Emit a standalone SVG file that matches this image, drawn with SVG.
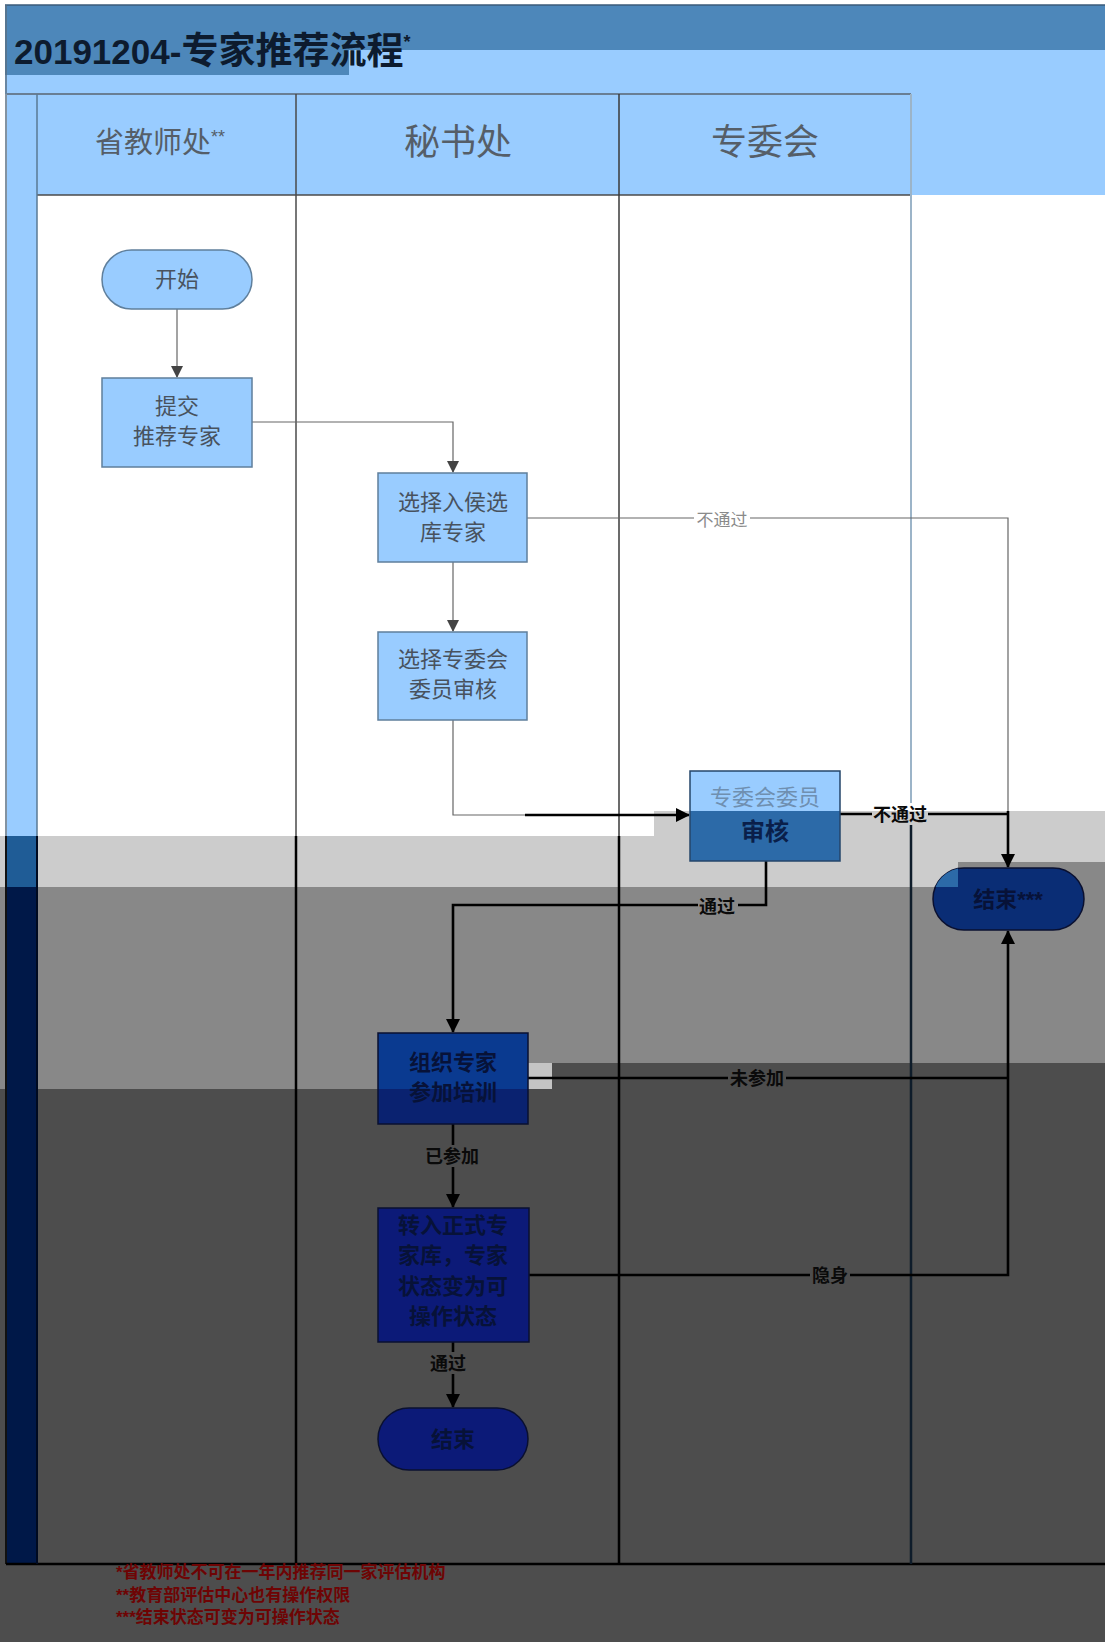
<svg xmlns="http://www.w3.org/2000/svg" width="1105" height="1642" viewBox="0 0 1105 1642">
<style>
.cjk{font-family:"Liberation Sans","Noto Sans CJK SC",sans-serif}
.hdr{font-family:"Liberation Sans","Noto Sans CJK SC",sans-serif;fill:#555e68;text-anchor:middle}
.nt{font-family:"Liberation Sans","Noto Sans CJK SC",sans-serif;font-size:22px;fill:#48525e;text-anchor:middle}
.dt{font-family:"Liberation Sans","Noto Sans CJK SC",sans-serif;font-size:22px;font-weight:bold;fill:#071238;text-anchor:middle}
.lt{fill:#99ccff;stroke:#5f7f9c;stroke-width:1.5}
.dk{stroke:#0a1030;stroke-width:1.5}
.cg{fill:none;stroke:#666;stroke-width:1.2}
.cb{fill:none;stroke:#000;stroke-width:2.6}
.lbl{font-family:"Liberation Sans","Noto Sans CJK SC",sans-serif;font-size:18px;font-weight:bold;fill:#0a0a0a;text-anchor:middle}
.fn{font-family:"Liberation Sans","Noto Sans CJK SC",sans-serif;font-size:17px;font-weight:bold;fill:#6e0404}
</style>
<defs>
<marker id="ag" markerWidth="12" markerHeight="12" refX="11" refY="6" orient="auto" markerUnits="userSpaceOnUse"><path d="M0,0 L12,6 L0,12 Z" fill="#444"/></marker>
<marker id="ab" markerWidth="14" markerHeight="14" refX="13" refY="7" orient="auto" markerUnits="userSpaceOnUse"><path d="M0,0 L14,7 L0,14 Z" fill="#000"/></marker>
<linearGradient id="grReview" gradientUnits="userSpaceOnUse" x1="0" y1="771" x2="0" y2="861"><stop offset="0.444" stop-color="#99ccff"/><stop offset="0.444" stop-color="#2c6aa8"/></linearGradient>
<linearGradient id="grTrain" gradientUnits="userSpaceOnUse" x1="0" y1="1033" x2="0" y2="1124"><stop offset="0.615" stop-color="#0a3a90"/><stop offset="0.615" stop-color="#0a2270"/></linearGradient>
<clipPath id="cpEnd3"><rect x="933" y="868" width="151" height="62" rx="31"/></clipPath>
</defs>

<!-- background -->
<rect x="0" y="0" width="1105" height="1642" fill="#ffffff"/>
<rect x="5" y="50" width="1100" height="44" fill="#99ccff"/>
<rect x="5" y="5" width="1100" height="45" fill="#4d87ba"/>
<rect x="5" y="50" width="344" height="25" fill="#4d87ba"/>
<rect x="7" y="94" width="30" height="742" fill="#99ccff"/>
<rect x="37" y="94" width="1068" height="101" fill="#99ccff"/>

<!-- overlay bands -->
<path d="M0,836 H654 V811 H1105 V1642 H0 Z" fill="#cccccc"/>
<path d="M0,887 H958 V862 H1105 V1642 H0 Z" fill="#888888"/>
<path d="M0,1089 H552 V1063 H1105 V1642 H0 Z" fill="#4d4d4d"/>
<rect x="528" y="1063" width="24" height="26" fill="#c4c4c4"/>
<rect x="7" y="836" width="30" height="51" fill="#1f5c96"/>
<rect x="7" y="887" width="30" height="677" fill="#001848"/>

<!-- frame and lane lines -->
<g id="lanes" fill="none">
<line x1="5" y1="5" x2="1105" y2="5" stroke="#3a5a78" stroke-width="1.5"/>
<line x1="6" y1="5" x2="6" y2="836" stroke="#5a6f82" stroke-width="1.5"/>
<line x1="6" y1="836" x2="6" y2="1564" stroke="#111" stroke-width="2"/>
<line x1="6" y1="1564" x2="1105" y2="1564" stroke="#000" stroke-width="2.5"/>
<line x1="7" y1="94" x2="911" y2="94" stroke="#5a6470" stroke-width="1.5"/>
<line x1="37" y1="195" x2="911" y2="195" stroke="#4a4a4a" stroke-width="1.5"/>
<line x1="37" y1="94" x2="37" y2="836" stroke="#5a7a95" stroke-width="1.5"/>
<line x1="37" y1="836" x2="37" y2="1564" stroke="#000a20" stroke-width="2"/>
<line x1="296" y1="94" x2="296" y2="836" stroke="#4a4a4a" stroke-width="1.5"/>
<line x1="296" y1="836" x2="296" y2="1564" stroke="#000" stroke-width="2.5"/>
<line x1="619" y1="94" x2="619" y2="836" stroke="#3a3a3a" stroke-width="1.5"/>
<line x1="619" y1="836" x2="619" y2="1564" stroke="#000" stroke-width="2.5"/>
<line x1="911" y1="94" x2="911" y2="811" stroke="#9cb4c8" stroke-width="2"/>
<line x1="911" y1="811" x2="911" y2="1564" stroke="#0e1c2a" stroke-width="2.5"/>
</g>

<!-- title and headers -->
<text x="14" y="64" class="cjk" font-size="35" font-weight="bold" fill="#0d1b2e">20191204-<tspan font-size="37">专家推荐流程</tspan><tspan font-size="18" dy="-16">*</tspan></text>
<g id="lane1"><text x="160" y="153" class="hdr" font-size="29">省教师处<tspan font-size="18" dy="-10">**</tspan></text></g>
<g id="lane2"><text x="458" y="155" class="hdr" font-size="36">秘书处</text></g>
<g id="lane3"><text x="765" y="155" class="hdr" font-size="36">专委会</text></g>

<!-- connectors -->
<g id="connectors">
<path class="cg" d="M177,309 V377" marker-end="url(#ag)"/>
<path class="cg" d="M252,422 H453 V472" marker-end="url(#ag)"/>
<path class="cg" d="M453,562 V631" marker-end="url(#ag)"/>
<path class="cg" d="M527,518 H1008 V811"/>
<path class="cb" d="M1008,811 V867" marker-end="url(#ab)"/>
<path class="cg" d="M453,720 V815 H525"/>
<path class="cb" d="M525,815 H689" marker-end="url(#ab)"/>
<path class="cb" d="M840,814 H1008"/>
<path class="cb" d="M766,861 V905 H453 V1032" marker-end="url(#ab)"/>
<path class="cb" d="M528,1078 H1008"/>
<path class="cb" d="M529,1275 H1008 V931" marker-end="url(#ab)"/>
<path class="cb" d="M453,1124 V1207" marker-end="url(#ab)"/>
<path class="cb" d="M453,1342 V1407" marker-end="url(#ab)"/>
<rect x="694" y="508" width="56" height="22" fill="#ffffff"/>
<text x="722" y="526" font-family="Liberation Sans,Noto Sans CJK SC,sans-serif" font-size="17" fill="#8a8a8a" text-anchor="middle">不通过</text>
<rect x="872" y="803" width="56" height="8" fill="#ffffff"/>
<rect x="872" y="811" width="56" height="14" fill="#cccccc"/>
<text x="900" y="821" class="lbl" font-size="17">不通过</text>
<rect x="698" y="895" width="40" height="22" fill="#888888"/>
<text x="717" y="913" class="lbl">通过</text>
<rect x="728" y="1067" width="58" height="22" fill="#4d4d4d"/>
<text x="757" y="1085" class="lbl">未参加</text>
<rect x="424" y="1145" width="58" height="22" fill="#4d4d4d"/>
<text x="452" y="1163" class="lbl">已参加</text>
<rect x="810" y="1264" width="40" height="22" fill="#4d4d4d"/>
<text x="830" y="1282" class="lbl">隐身</text>
<rect x="428" y="1352" width="40" height="22" fill="#4d4d4d"/>
<text x="448" y="1370" class="lbl">通过</text>
</g>

<!-- nodes -->
<g id="n_start"><rect class="lt" x="102" y="250" width="150" height="59" rx="29.5"/><text class="nt" x="177" y="287">开始</text></g>
<g id="n_submit"><rect class="lt" x="102" y="378" width="150" height="89"/><text class="nt" x="177" y="414">提交</text><text class="nt" x="177" y="444">推荐专家</text></g>
<g id="n_pool"><rect class="lt" x="378" y="473" width="149" height="89"/><text class="nt" x="453" y="510">选择入侯选</text><text class="nt" x="453" y="540">库专家</text></g>
<g id="n_select"><rect class="lt" x="378" y="632" width="149" height="88"/><text class="nt" x="453" y="667">选择专委会</text><text class="nt" x="453" y="697">委员审核</text></g>
<g id="n_review"><rect x="690" y="771" width="150" height="90" fill="url(#grReview)" stroke="#24456a" stroke-width="1.5"/><text class="nt" x="765" y="805" style="fill:#6f8fb0">专委会委员</text><text class="dt" x="765" y="840" style="fill:#0a1f4a;font-size:24px">审核</text></g>
<g id="n_end3"><rect class="dk" x="933" y="868" width="151" height="62" rx="31" fill="#0a2d75"/><rect x="933" y="862" width="25" height="25" fill="#2c6aa8" clip-path="url(#cpEnd3)"/><text class="dt" x="1008" y="907">结束***</text></g>
<g id="n_train"><rect class="dk" x="378" y="1033" width="150" height="91" fill="url(#grTrain)"/><text class="dt" x="453" y="1070">组织专家</text><text class="dt" x="453" y="1100">参加培训</text></g>
<g id="n_transfer"><rect class="dk" x="378" y="1208" width="151" height="134" fill="#0c1a78"/><text class="dt" x="453" y="1233">转入正式专</text><text class="dt" x="453" y="1263">家库，专家</text><text class="dt" x="453" y="1294">状态变为可</text><text class="dt" x="453" y="1324">操作状态</text></g>
<g id="n_end"><rect class="dk" x="378" y="1408" width="150" height="62" rx="31" fill="#0c1a78"/><text class="dt" x="453" y="1447">结束</text></g>

<!-- footnotes -->
<text class="fn" x="116" y="1578">*省教师处不可在一年内推荐同一家评估机构</text>
<text class="fn" x="116" y="1601">**教育部评估中心也有操作权限</text>
<text class="fn" x="116" y="1623">***结束状态可变为可操作状态</text>
</svg>
